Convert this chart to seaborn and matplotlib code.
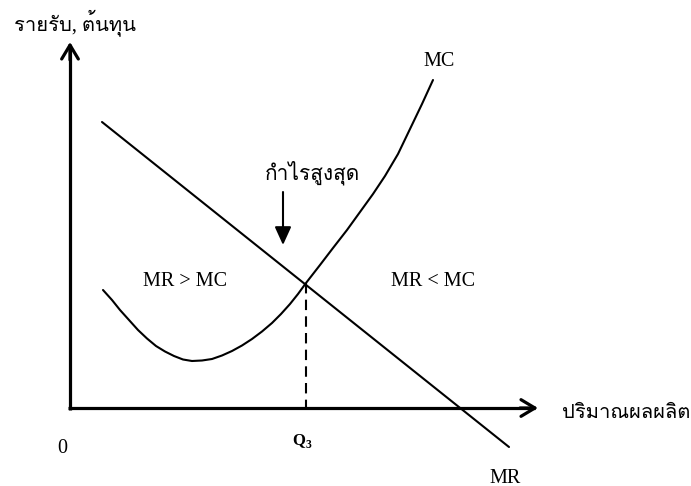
import matplotlib
matplotlib.use('Agg')
import matplotlib.pyplot as plt
import seaborn as sns
import pandas as pd
from matplotlib import font_manager
from matplotlib.ft2font import FT2Font

# curves of the diagram (pixel units, y grows downwards)
mr_x = [102, 509]
mr_y = [122, 447]
mc_x = [103, 112, 120, 129, 138, 147, 156, 165, 174, 183, 192, 202, 212, 222, 232,
        242, 252, 262, 272, 281, 290, 298, 306, 320, 333, 347, 360, 373, 385, 398,
        410, 422, 433]
mc_y = [290, 300, 310, 320, 330, 338.5, 346, 351.5, 356, 359.5, 361, 360.5, 359,
        355.5, 351, 345.5, 339, 331.5, 323, 314, 304, 294, 283, 265, 248, 230, 212,
        194, 176, 154, 129, 104, 80]
q_star = 306

# find an installed font that has Thai glyphs
thai_family = None
for f in font_manager.fontManager.ttflist:
    try:
        if FT2Font(f.fname).get_char_index(ord('ร')):
            thai_family = f.name
            break
    except Exception:
        pass

sns.set_style('white')
fams = ['Liberation Serif']
if thai_family:
    fams.append(thai_family)
fams.append('DejaVu Sans')
plt.rcParams['font.family'] = fams
plt.rcParams['text.color'] = 'black'
plt.rcParams['mathtext.fontset'] = 'custom'
plt.rcParams['mathtext.rm'] = 'Liberation Serif'
plt.rcParams['mathtext.bf'] = 'Liberation Serif:bold'

fig = plt.figure(figsize=(6.91, 4.86), dpi=100)
ax = fig.add_axes([0, 0, 1, 1])

mr = pd.DataFrame({'x': mr_x, 'y': mr_y})
mc = pd.DataFrame({'x': mc_x, 'y': mc_y})
sns.lineplot(data=mr, x='x', y='y', sort=False, color='black', lw=1.5, ax=ax)
sns.lineplot(data=mc, x='x', y='y', sort=False, color='black', lw=1.5, ax=ax)

# dashed drop line from the intersection
ax.plot([q_star, q_star], [283, 408], color='black', lw=1.5, ls=(0, (5, 3)))

# axes with arrow heads
ax.plot([68, 535], [408, 408], color='black', lw=2.3, solid_capstyle='butt')
ax.plot([70, 70], [410, 45], color='black', lw=2.3, solid_capstyle='butt')
ax.annotate('', xy=(538, 408), xytext=(520, 408),
            arrowprops=dict(arrowstyle='->,head_length=0.5,head_width=0.3', lw=2.3,
                            color='black', mutation_scale=20, shrinkA=0, shrinkB=0))
ax.annotate('', xy=(70, 42), xytext=(70, 60),
            arrowprops=dict(arrowstyle='->,head_length=0.5,head_width=0.3', lw=2.3,
                            color='black', mutation_scale=20, shrinkA=0, shrinkB=0))

# arrow pointing at the profit maximum
ax.annotate('', xy=(283, 245), xytext=(283, 192),
            arrowprops=dict(arrowstyle='-|>,head_length=0.55,head_width=0.25', lw=1.5,
                            color='black', mutation_scale=20, shrinkA=0, shrinkB=0))

ax.text(75, 23, 'รายรับ, ต้นทุน', fontsize=14.5, ha='center', va='center')
ax.text(626, 413, 'ปริมาณผลผลิต', fontsize=14.5, ha='center', va='center')
ax.text(312, 173, 'กำไรสูงสุด', fontsize=15, ha='center', va='center')
ax.text(439, 61, 'MC', fontsize=14.5, ha='center', va='center')
ax.text(505, 478, 'MR', fontsize=14.5, ha='center', va='center')
ax.text(185, 281, 'MR > MC', fontsize=14.5, ha='center', va='center')
ax.text(433, 281, 'MR < MC', fontsize=14.5, ha='center', va='center')
ax.text(62, 448, '0', fontsize=14.5, ha='center', va='center')
ax.text(302, 441, r'$\mathbf{Q}_\mathbf{3}$', fontsize=12, ha='center', va='center')

ax.set_xlim(0, 691)
ax.set_ylim(486, 0)
ax.axis('off')

fig.savefig('out.png', dpi=100)
